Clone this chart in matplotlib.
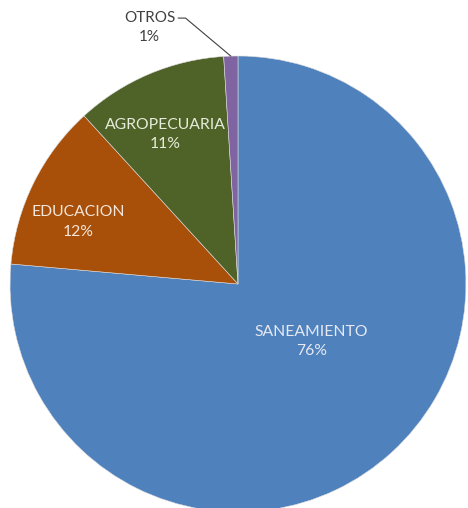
import matplotlib
matplotlib.use("Agg")
import matplotlib.pyplot as plt
import numpy as np

categories = ["SANEAMIENTO", "EDUCACION", "AGROPECUARIA", "OTROS"]
values = [76.4, 11.8, 10.8, 1.0]
colors = ["#4F81BD", "#A84F09", "#4F6228", "#8064A2"]

plt.rcParams['font.family'] = ['Lato', 'DejaVu Sans']

fig = plt.figure(figsize=(4.68, 5.08), dpi=100)
ax = fig.add_axes([0, 0, 1, 1])
wedges, _ = ax.pie(values, colors=colors, startangle=90, counterclock=False,
                   radius=1.0, wedgeprops=dict(edgecolor="#dcdcdc", linewidth=0.4))
ax.set_aspect('auto')
ax.set_xlim(-1.044, 1.009)
ax.set_ylim(-0.9825, 1.2456)
ax.axis('off')

# label placement (radius fraction, angle deg)
place = [(0.41, -38), (0.75, 158.8), (0.73, 116), (1.19, 109)]
txtcol = ["#E6E9F2", "#F2E6DA", "#E6ECDA", "#404040"]
for w, cat, v, (r, a), tc in zip(wedges, categories, values, place, txtcol):
    x, y = r * np.cos(np.radians(a)), r * np.sin(np.radians(a))
    label = f"{cat}\n{v:.0f}%"
    if cat == "OTROS":
        th = np.radians((w.theta1 + w.theta2) / 2)
        ax.annotate(label, xy=(np.cos(th), np.sin(th)), xytext=(x, y),
                    ha='center', va='center', fontsize=11, color=tc,
                    linespacing=1.5,
                    arrowprops=dict(arrowstyle='-', color='#404040', lw=0.8,
                                    shrinkA=0, shrinkB=0,
                                    connectionstyle="angle,angleA=0,angleB=-40,rad=0",
                                    relpos=(1.0, 0.78)))
    else:
        ax.text(x, y, label, ha='center', va='center', fontsize=11.3, color=tc,
                linespacing=1.5)

fig.savefig("out.png", dpi=100)
